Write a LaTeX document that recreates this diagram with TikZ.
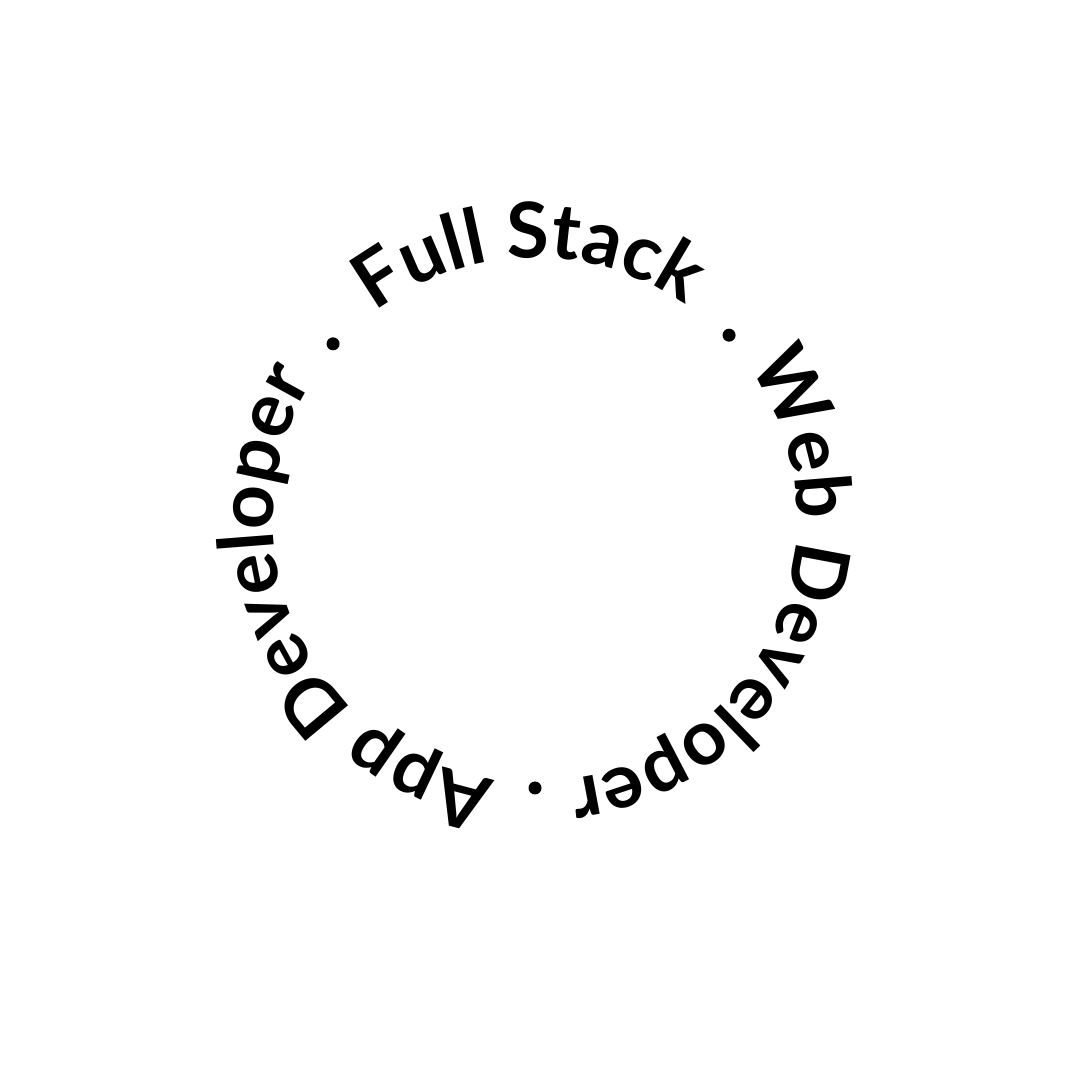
\documentclass[tikz,border=0pt]{standalone}
\usepackage{fontspec}
\setmainfont{Lato}
\newfontfamily\ringfamily{Lato}
\newcommand\ringfont{\ringfamily\bfseries\fontsize{21.9pt}{24pt}\selectfont}
\usetikzlibrary{decorations.text}

\begin{document}
\begin{tikzpicture}[
    ringtext/.style={decorate, decoration={text along path, text={|\ringfont|#1}, text align=center}},
    sepdot/.style={circle, fill=black, inner sep=0pt, minimum size=1.3mm}
]

    % Canvas
    \path [fill=white, use as bounding box] (0,0) rectangle (10.8,10.8);
    \coordinate (c) at (5.35,5.60);

    % Ring texts
    \path [ringtext={Full Stack}] ([shift={(c)}]181.25:2.62) arc[start angle=181.25, end angle=1.25, radius=2.62];
    \path [ringtext={Web Developer}] ([shift={(c)}]66.8:2.62) arc[start angle=66.8, end angle=-113.2, radius=2.62];
    \path [ringtext={App Developer}] ([shift={(c)}]-65.5:2.62) arc[start angle=-65.5, end angle=-245.5, radius=2.62];

    % Separators
    \node [sepdot] (dotfull) at ([shift={(c)}]138.9:2.68) {};
    \node [sepdot] (dotweb) at ([shift={(c)}]43.6:2.68) {};
    \node [sepdot] (dotapp) at ([shift={(c)}]-90:2.68) {};
\end{tikzpicture}
\end{document}
